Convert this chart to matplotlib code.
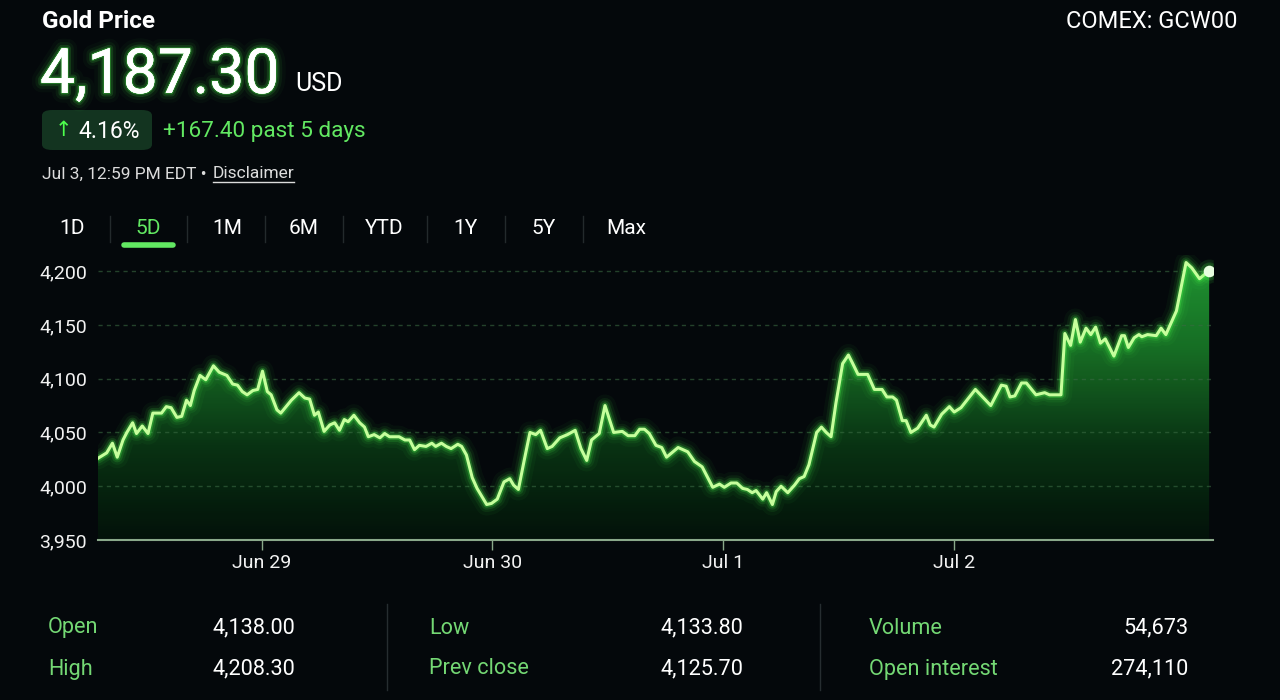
import numpy as np
import matplotlib.pyplot as plt
import matplotlib.patheffects as pe
from matplotlib.patches import FancyBboxPatch
from matplotlib.lines import Line2D

plt.rcParams['font.family'] = ['Roboto', 'DejaVu Sans']

# hours since Jun 29 00:00 and gold price
hours = [-17.0, -16.1, -15.5, -15.0, -14.4, -14.0, -13.4, -13.0, -12.4, -11.8,
         -11.3, -10.4, -9.9, -9.4, -8.8, -8.3, -7.8, -7.4, -7.0, -6.4,
         -5.8, -5.0, -4.4, -3.6, -3.0, -2.5, -2.0, -1.5, -0.9, -0.4,
         0.1, 0.6, 1.0, 1.6, 2.0, 3.1, 3.9, 4.5, 5.0, 5.5,
         5.9, 6.5, 7.1, 7.6, 8.1, 8.6, 9.0, 9.6, 10.2, 10.7,
         11.1, 11.7, 12.3, 12.8, 13.3, 14.3, 14.9, 15.4, 15.9, 16.4,
         17.1, 17.7, 18.1, 18.7, 19.2, 19.7, 20.4, 20.8, 21.3, 21.9,
         22.4, 23.4, 23.9, 24.5, 25.2, 25.8, 26.2, 26.7, 27.3, 27.9,
         28.5, 29.0, 29.7, 30.2, 31.0, 31.8, 32.6, 33.2, 33.8, 34.3,
         35.1, 35.7, 36.6, 37.5, 38.1, 38.8, 39.3, 39.8, 40.3, 41.0,
         41.6, 42.1, 43.3, 44.3, 45.0, 45.8, 46.9, 47.6, 48.1, 48.8,
         49.4, 50.0, 50.5, 51.0, 51.4, 52.1, 52.5, 53.1, 53.5, 54.0,
         54.7, 55.4, 55.9, 56.4, 56.9, 57.7, 58.2, 58.7, 59.2, 59.7,
         60.4, 61.0, 61.4, 62.0, 63.0, 63.7, 64.5, 65.0, 65.6, 66.0,
         66.6, 67.0, 67.5, 68.2, 69.1, 69.5, 69.9, 70.7, 71.5, 72.0,
         72.7, 74.2, 75.8, 76.9, 77.4, 77.8, 78.3, 79.0, 79.5, 80.5,
         81.4, 81.9, 83.1, 83.5, 84.1, 84.6, 85.1, 85.7, 86.2, 86.7,
         87.2, 87.7, 88.6, 89.4, 89.7, 90.1, 90.7, 91.2, 91.5, 92.1,
         93.0, 93.5, 94.0, 95.1, 96.1, 96.7, 97.5, 98.3, 98.5]
price = [4026, 4031, 4040, 4027, 4043, 4050, 4059, 4049, 4056, 4049,
         4068, 4068, 4074, 4073, 4064, 4065, 4080, 4075, 4089, 4103,
         4099, 4112, 4106, 4103, 4095, 4094, 4088, 4085, 4089, 4090,
         4107, 4088, 4085, 4071, 4068, 4080, 4087, 4082, 4081, 4066,
         4069, 4051, 4057, 4059, 4052, 4062, 4060, 4066, 4059, 4055,
         4046, 4048, 4045, 4049, 4046, 4046, 4043, 4043, 4034, 4038,
         4037, 4040, 4037, 4040, 4037, 4035, 4039, 4037, 4029, 4008,
         3998, 3983, 3984, 3988, 4004, 4007, 4001, 3997, 4024, 4050,
         4048, 4052, 4035, 4037, 4045, 4048, 4052, 4035, 4024, 4043,
         4049, 4075, 4050, 4051, 4047, 4047, 4053, 4053, 4049, 4038,
         4036, 4027, 4036, 4032, 4023, 4018, 3999, 4002, 3999, 4003,
         4003, 3998, 3997, 3994, 3996, 3988, 3994, 3983, 3995, 4000,
         3994, 4001, 4007, 4009, 4020, 4050, 4055, 4050, 4046, 4077,
         4114, 4122, 4115, 4104, 4104, 4090, 4090, 4083, 4083, 4080,
         4061, 4061, 4050, 4054, 4066, 4057, 4055, 4067, 4074, 4069,
         4073, 4090, 4075, 4094, 4093, 4083, 4084, 4096, 4096, 4085,
         4087, 4085, 4085, 4142, 4131, 4155, 4134, 4147, 4141, 4148,
         4133, 4137, 4121, 4140, 4140, 4129, 4138, 4141, 4139, 4141,
         4140, 4147, 4141, 4163, 4208, 4203, 4193, 4199, 4200]

y_ticks = [3950, 4000, 4050, 4100, 4150, 4200]
x_ticks = [0, 24, 48, 72]
x_labels = ['Jun 29', 'Jun 30', 'Jul 1', 'Jul 2']
tabs = ['1D', '5D', '1M', '6M', 'YTD', '1Y', '5Y', 'Max']
stat_labels = [['Open', 'High'], ['Low', 'Prev close'], ['Volume', 'Open interest']]
stat_values = [['4,138.00', '4,208.30'], ['4,133.80', '4,125.70'], ['54,673', '274,110']]

BG = '#04080b'
GREEN = '#4dff4d'
LINE = '#c6ff9c'
LABEL_GREEN = '#74d874'
W, H = 1280, 700

fig = plt.figure(figsize=(12.8, 7), dpi=100, facecolor=BG)


def fx(px):
    return px / W


def fy(py):
    return 1 - py / H


# ---- chart ----
ax = fig.add_axes([fx(98), fy(540), fx(1213) - fx(98), fy(255) - fy(540)])
ax.set_facecolor('none')
ax.set_xlim(-17.0, 98.9)
ax.set_ylim(3950, 4215)

# dashed gridlines, visible over the fill too
for v in y_ticks[1:]:
    ax.axhline(v, color='#3a6a42', lw=1, ls=(0, (3, 3)), alpha=0.6, zorder=2.5)

# gradient fill under the line
grad = np.linspace(0, 1, 256).reshape(-1, 1)
cmap = plt.matplotlib.colors.LinearSegmentedColormap.from_list(
    'g', ['#03120a', '#0a3614', '#187326', '#229e34'])
im = ax.imshow(grad, extent=[hours[0], hours[-1], 3950, 4215], origin='lower',
               aspect='auto', cmap=cmap, zorder=2, alpha=0.95)
poly = ax.fill_between(hours, price, 3950, color='none', lw=0)
clip = poly.get_paths()[0]
im.set_clip_path(clip, transform=ax.transData)

# glowing line
for lw, a in [(16, 0.04), (11, 0.07), (7.5, 0.13), (4.5, 0.28)]:
    ax.plot(hours, price, color=GREEN, lw=lw, alpha=a, solid_joinstyle='round',
            solid_capstyle='round', zorder=3)
ax.plot(hours, price, color=LINE, lw=2.2, solid_joinstyle='round', zorder=4)

# end dot
for s, a in [(300, 0.08), (170, 0.15)]:
    ax.scatter([hours[-1]], [price[-1]], s=s, color=GREEN, alpha=a, lw=0, zorder=5)
ax.scatter([hours[-1]], [price[-1]], s=70, color='#e8ffe0', lw=0, zorder=6)

for sp in ['top', 'right', 'left']:
    ax.spines[sp].set_visible(False)
ax.spines['bottom'].set_color('#8aa88a')
ax.spines['bottom'].set_linewidth(1.5)
ax.set_yticks(y_ticks)
ax.set_yticklabels([f'{v:,}' for v in y_ticks])
ax.tick_params(axis='y', length=0, pad=8, labelsize=14, labelcolor='#f2f2f2')
ax.set_xticks(x_ticks)
ax.set_xticklabels(x_labels)
ax.tick_params(axis='x', length=7, width=1, color='#8aa88a', pad=3,
               labelsize=14, labelcolor='#f2f2f2')

# ---- header ----
fig.text(fx(42), fy(21), 'Gold Price', color='white', fontsize=17.5,
         fontweight='bold', va='center', ha='left')
fig.text(fx(1237), fy(21), 'COMEX: GCW00', color='white', fontsize=17,
         va='center', ha='right')
glow = [pe.withStroke(linewidth=14, foreground=GREEN, alpha=0.03),
        pe.withStroke(linewidth=9, foreground=GREEN, alpha=0.06),
        pe.withStroke(linewidth=5, foreground=GREEN, alpha=0.14),
        pe.withStroke(linewidth=2, foreground=GREEN, alpha=0.30),
        pe.Normal()]
fig.text(fx(40), fy(93), '4,187.30', color='white', fontsize=45,
         va='baseline', ha='left', path_effects=glow)
fig.text(fx(295), fy(91), 'USD', color='white', fontsize=18,
         va='baseline', ha='left')

badge = FancyBboxPatch((fx(42), fy(150)), fx(152) - fx(42), fy(110) - fy(150),
                       boxstyle='round,pad=0,rounding_size=0.008',
                       transform=fig.transFigure, facecolor='#133420',
                       edgecolor='none')
fig.patches.append(badge)
fig.text(fx(55), fy(131), '↑', color=GREEN, fontsize=15, va='center', ha='left')
fig.text(fx(78), fy(131), '4.16%', color='white', fontsize=16.5, va='center', ha='left')
fig.text(fx(163), fy(131), '+167.40 past 5 days', color='#62e862', fontsize=16.2,
         va='center', ha='left')

fig.text(fx(42), fy(174), 'Jul 3, 12:59 PM EDT •', color='#dcdcdc',
         fontsize=12.5, va='center', ha='left')
fig.text(fx(213), fy(174), 'Disclaimer', color='#dcdcdc', fontsize=12.5,
         va='center', ha='left')
fig.add_artist(Line2D([fx(213), fx(294)], [fy(182), fy(182)],
                      color='#dcdcdc', lw=1, transform=fig.transFigure))

# ---- range tabs ----
tab_x = [72, 148, 227, 304, 384, 465, 544, 626]
sep_x = [110, 187, 265, 343, 427, 505, 583]
for lab, x in zip(tabs, tab_x):
    fig.text(fx(x), fy(229), lab, color=('#62e862' if lab == '5D' else 'white'),
             fontsize=15, va='center', ha='center')
for x in sep_x:
    fig.add_artist(Line2D([fx(x), fx(x)], [fy(216), fy(242)], color='#232a2c',
                          lw=1, transform=fig.transFigure))
fig.add_artist(Line2D([fx(124), fx(173)], [fy(245), fy(245)], color='#62e862',
                      lw=4, solid_capstyle='round', transform=fig.transFigure))

# ---- stats ----
col_label_x = [48, 429, 869]
col_value_x = [295, 743, 1188]
row_y = [628, 669]
for c in range(3):
    for r in range(2):
        fig.text(fx(col_label_x[c]), fy(row_y[r]), stat_labels[c][r],
                 color=LABEL_GREEN, fontsize=15.6, va='center', ha='left')
        fig.text(fx(col_value_x[c]), fy(row_y[r]), stat_values[c][r],
                 color='white', fontsize=15.6, va='center', ha='right')
for x in [387, 820]:
    fig.add_artist(Line2D([fx(x), fx(x)], [fy(604), fy(690)], color='#262d30',
                          lw=1, transform=fig.transFigure))

fig.savefig('out.png', dpi=100, facecolor=BG)
